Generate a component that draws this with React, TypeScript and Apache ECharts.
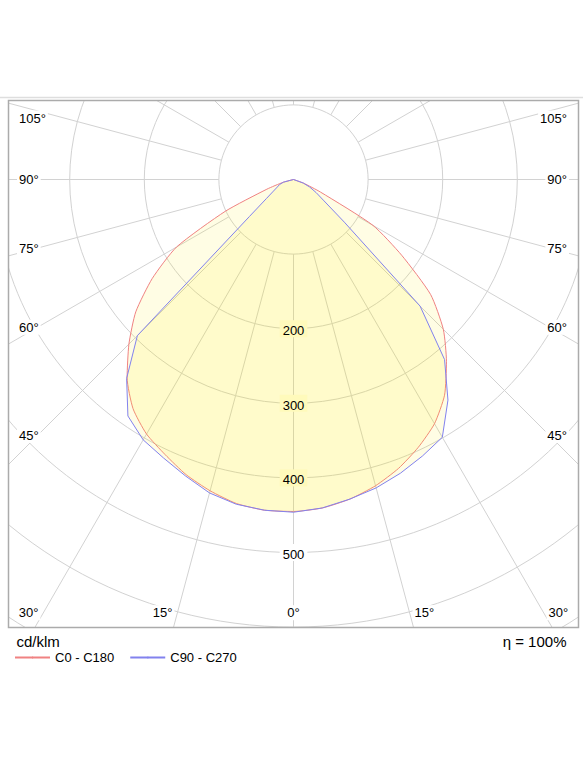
import { useEffect, useRef } from "react"
import * as echarts from "echarts"

// gamma angles in degrees from nadir, intensities in cd/klm
const gammaAngles = [0, 5, 10, 15, 20, 25, 30, 35, 40, 45, 50, 55, 60, 65, 70, 75, 80, 85, 90]
// C0 - C180 plane: C180 is the left half, C0 the right half
const c180Values = [445, 445, 441, 432, 421, 407, 394, 375, 347, 312, 276, 231, 181, 101, 38, 14, 0, 0, 0]
const c0Values = [445, 442, 435, 425, 412, 396, 378, 353, 319, 284, 240, 177, 123, 40, 14, 0, 0, 0, 0]
// C90 - C270 plane: C270 is the left half, C90 the right half
const c270Values = [446, 445, 442, 435, 423, 412, 403, 387, 348, 296, 77, 44, 31, 24, 20, 14, 0, 0, 0]
const c90Values = [446, 442, 435, 428, 419, 409, 399, 361, 315, 240, 89, 50, 35, 24, 14, 0, 0, 0, 0]

const seriesNames = ["C0 - C180", "C90 - C270"]
const radiusLabels = [200, 300, 400, 500]
const sideAngleTicks = [45, 60, 75, 90, 105]
const bottomAngleTicks = [0, 15, 30]
const unitText = "cd/klm"
const efficiencyText = "η = 100%"

const FONT = '"Liberation Sans", Arial, Helvetica, sans-serif'
const CX = 293.5
const CY = 179.5
const PX_PER_100 = 74.6
const GRID = "#d2d2d2"
const RED = "#f08282"
const BLUE = "#8282ee"
const FILL = "rgba(255, 240, 0, 0.15)"
const FILL_UNDER = "#fffabb" // two fills stacked on white
const FRAME = { left: 8.5, top: 100.5, right: 578.5, bottom: 627.5 }

// left half goes from 90° down to nadir, right half from nadir back up (angle 360 - gamma)
function curve(left: number[], right: number[]) {
  const l = gammaAngles.map((g, i) => [left[i], g]).reverse()
  const r = gammaAngles.map((g, i) => [right[i], 360 - g])
  return [...l, ...r]
}

function label(text: string, x: number, y: number, align: string) {
  return {
    type: "text",
    z: 60,
    silent: true,
    style: {
      text, x, y,
      textAlign: align,
      textVerticalAlign: "middle",
      font: `13px ${FONT}`,
      fill: "#000",
      backgroundColor: "#fff",
      padding: [1, 2],
    },
  }
}

function degreeLabels() {
  const out: any[] = []
  sideAngleTicks.forEach((g) => {
    // on the spoke, but kept clear of the frame's top edge
    const y = Math.max(CY + 256 / Math.tan((g * Math.PI) / 180), FRAME.top + 17.5)
    out.push(label(`${g}°`, 17, y, "left"))
    out.push(label(`${g}°`, 569, y, "right"))
  })
  const yb = 612.7
  bottomAngleTicks.forEach((g) => {
    if (g === 0) {
      out.push(label(`${g}°`, CX, yb, "center"))
      return
    }
    const dx = (yb - CY) * Math.tan((g * Math.PI) / 180)
    out.push(label(`${g}°`, CX - dx - 3, yb, "right"))
    out.push(label(`${g}°`, CX + dx + 3, yb, "left"))
  })
  return out
}

export default function App() {
  const chartRef = useRef<HTMLDivElement>(null)

  useEffect(() => {
    if (!chartRef.current) return
    const chart = echarts.init(chartRef.current, undefined, { renderer: "svg" })
    const nadirMin = Math.min(c0Values[0], c90Values[0], c180Values[0], c270Values[0])

    const mask = (x: number, y: number, width: number, height: number) => ({
      type: "rect",
      z: 50,
      silent: true,
      shape: { x, y, width, height },
      style: { fill: "#fff" },
    })

    const option = {
      animation: false,
      textStyle: { fontFamily: FONT },
      polar: [
        { center: [CX, CY], radius: [PX_PER_100, PX_PER_100 * 8] },
        { center: [CX, CY], radius: [0, PX_PER_100 * 8] },
      ],
      angleAxis: [
        {
          polarIndex: 0,
          type: "value",
          min: 0,
          max: 360,
          interval: 15,
          startAngle: 270,
          axisLine: { show: false },
          axisTick: { show: false },
          axisLabel: { show: false },
          splitLine: { show: true, lineStyle: { color: GRID, width: 1 } },
        },
        {
          polarIndex: 1,
          type: "value",
          min: 0,
          max: 360,
          startAngle: 270,
          axisLine: { show: false },
          axisTick: { show: false },
          axisLabel: { show: false },
          splitLine: { show: false },
        },
      ],
      radiusAxis: [
        {
          polarIndex: 0,
          type: "value",
          min: 100,
          max: 800,
          interval: 100,
          axisLine: { show: false },
          axisTick: { show: false },
          axisLabel: { show: false },
          splitLine: { show: true, lineStyle: { color: GRID, width: 1 } },
        },
        {
          polarIndex: 1,
          type: "value",
          min: 0,
          max: 800,
          interval: 100,
          z: 10,
          axisLine: { show: false },
          axisTick: { show: false },
          splitLine: { show: false },
          axisLabel: {
            show: true,
            margin: 0,
            align: "center",
            verticalAlign: "middle",
            formatter: (v: number) =>
              radiusLabels.includes(v) ? `{${v < nadirMin ? "inFill" : "outFill"}|${v}}` : "",
            rich: {
              inFill: { backgroundColor: FILL_UNDER, padding: [4, 3, 0, 3], fontSize: 13, color: "#000", fontFamily: FONT },
              outFill: { backgroundColor: "#fff", padding: [4, 3, 0, 3], fontSize: 13, color: "#000", fontFamily: FONT },
            },
          },
        },
      ],
      legend: {
        data: seriesNames,
        left: 14,
        top: 651,
        padding: 0,
        z: 100,
        itemWidth: 35,
        itemHeight: 2,
        itemGap: 15,
        textStyle: { fontSize: 13, color: "#000", fontFamily: FONT },
      },
      series: [
        {
          name: seriesNames[0],
          type: "line",
          coordinateSystem: "polar",
          polarIndex: 1,
          symbol: "none",
          smooth: 0.2,
          z: 2,
          data: curve(c180Values, c0Values),
          lineStyle: { color: RED, width: 1 },
          itemStyle: { color: RED },
          areaStyle: { color: FILL },
        },
        {
          name: seriesNames[1],
          type: "line",
          coordinateSystem: "polar",
          polarIndex: 1,
          symbol: "none",
          z: 3,
          data: curve(c270Values, c90Values),
          lineStyle: { color: BLUE, width: 1 },
          itemStyle: { color: BLUE },
          areaStyle: { color: FILL },
        },
      ],
      graphic: [
        mask(0, 0, 583, FRAME.top),
        mask(0, FRAME.bottom, 583, 777 - FRAME.bottom),
        mask(0, 0, FRAME.left, 777),
        mask(FRAME.right, 0, 583 - FRAME.right, 777),
        {
          type: "line",
          z: 60,
          silent: true,
          shape: { x1: 0, y1: 97.5, x2: 583, y2: 97.5 },
          style: { stroke: "#dedede", lineWidth: 1.5 },
        },
        {
          type: "rect",
          z: 60,
          silent: true,
          shape: {
            x: FRAME.left,
            y: FRAME.top,
            width: FRAME.right - FRAME.left,
            height: FRAME.bottom - FRAME.top,
          },
          style: { fill: "none", stroke: "#ababab", lineWidth: 1.5 },
        },
        ...degreeLabels(),
        {
          type: "text",
          z: 60,
          silent: true,
          style: {
            text: unitText, x: 16.5, y: 641.7,
            textAlign: "left", textVerticalAlign: "middle",
            font: `15px ${FONT}`, fill: "#000",
          },
        },
        {
          type: "text",
          z: 60,
          silent: true,
          style: {
            text: efficiencyText, x: 566.5, y: 641.7,
            textAlign: "right", textVerticalAlign: "middle",
            font: `15px ${FONT}`, fill: "#000",
          },
        },
      ],
    }

    chart.setOption(option as any)
    return () => chart.dispose()
  }, [])

  return (
    <div
      ref={chartRef}
      style={{ position: "fixed", left: 0, top: 0, width: 583, height: 777, background: "#fff" }}
    />
  )
}
